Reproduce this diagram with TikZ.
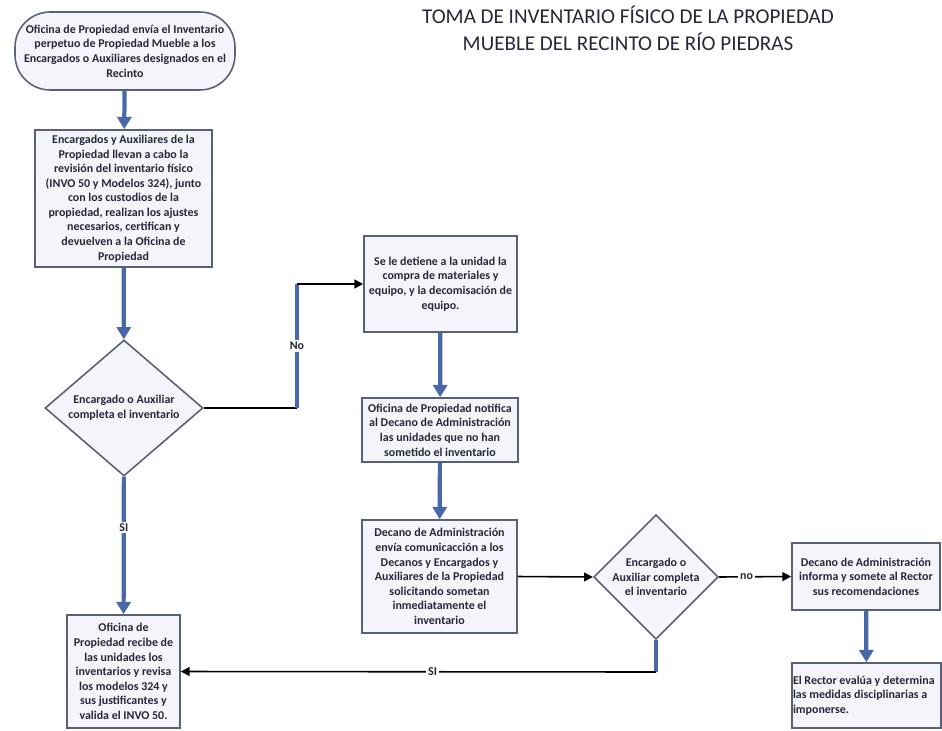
\documentclass[tikz,border=0pt]{standalone}
\usepackage{fontspec}
\setmainfont{Carlito}
\usetikzlibrary{arrows.meta,shapes.geometric,positioning}

\definecolor{flowblue}{RGB}{72,104,170}
\definecolor{boxline}{RGB}{90,96,118}
\definecolor{boxfill}{RGB}{244,245,250}
\definecolor{ink}{RGB}{38,40,58}

\begin{document}
\begin{tikzpicture}[x=0.02cm, y=-0.02cm,
    box/.style={draw=boxline, line width=0.9pt, fill=boxfill, align=center, inner sep=1pt, text=ink, font=\fontsize{6.8}{8.3}\selectfont\bfseries},
    dec/.style={box, diamond, inner sep=0pt},
    term/.style={box, rounded corners=20pt},
    flow/.style={-{Triangle[length=7pt,width=8pt]}, line width=2.4pt, draw=flowblue},
    link/.style={-{Triangle[length=5pt,width=5pt]}, line width=0.9pt, draw=black},
    lbl/.style={font=\fontsize{6.8}{8}\selectfont\bfseries, text=ink, fill=white, inner sep=1pt}
]
\useasboundingbox (0,0) rectangle (942,730);

\node[font=\fontsize{12}{15.3}\selectfont, text=ink, align=center] (title) at (628,28.5)
    {TOMA DE INVENTARIO FÍSICO DE LA PROPIEDAD\\MUEBLE DEL RECINTO DE RÍO PIEDRAS};

\node[term, minimum width=4.4cm, minimum height=1.56cm] (envio) at (125,51)
    {Oficina de Propiedad envía el Inventario\\perpetuo de Propiedad Mueble a los\\Encargados o Auxiliares designados en el\\Recinto};
\node[box, minimum width=3.54cm, minimum height=2.74cm] (revision) at (123.5,198.5)
    {Encargados y Auxiliares de la\\Propiedad llevan a cabo la\\revisión del inventario físico\\(INVO 50 y Modelos 324), junto\\con los custodios de la\\propiedad, realizan los ajustes\\necesarios, certifican y\\devuelven a la Oficina de\\Propiedad};
\node[dec, minimum width=3.16cm, minimum height=2.14cm] (completa) at (124,408)
    {Encargado o Auxiliar\\completa el inventario};
\node[box, minimum width=2.26cm, minimum height=2.26cm] (recibe) at (123.5,671.5)
    {Oficina de\\Propiedad recibe de\\las unidades los\\inventarios y revisa\\los modelos 324 y\\sus justificantes y\\valida el INVO 50.};

\node[box, minimum width=3.06cm, minimum height=1.92cm] (detiene) at (440.5,284)
    {Se le detiene a la unidad la\\compra de materiales y\\equipo, y la decomisación de\\equipo.};
\node[box, minimum width=3.12cm, minimum height=1.28cm] (notifica) at (440,430)
    {Oficina de Propiedad notifica\\al Decano de Administración\\las unidades que no han\\sometido el inventario};
\node[box, minimum width=3.10cm, minimum height=2.26cm] (decano) at (439.5,576.5)
    {Decano de Administración\\envía comunicacción a los\\Decanos y Encargados y\\Auxiliares de la Propiedad\\solicitando sometan\\inmediatamente el\\inventario};
\node[dec, minimum width=2.36cm, minimum height=2.34cm] (completa2) at (656,577)
    {Encargado o\\Auxiliar completa\\el inventario};
\node[box, minimum width=2.96cm, minimum height=1.34cm] (informa) at (866,576.5)
    {Decano de Administración\\informa y somete al Rector\\sus recomendaciones};
\node[box, align=flush left, text width=2.94cm, inner xsep=0.5pt, minimum height=1.30cm] (rector) at (866.5,695.5)
    {El Rector evalúa y determina\\las medidas disciplinarias a\\imponerse.};

\coordinate (nobaja) at (297,408);
\coordinate (nosube) at (297,284);
\coordinate (sibaja) at (656,672);

\draw[flow] (envio) -- (revision);
\draw[flow] (revision) -- (completa);
\draw[flow] (completa) -- node[lbl, pos=0.37] {SI} (recibe);
\draw[line width=0.9pt] (completa.east) -- (nobaja);
\draw[line width=2.4pt, draw=flowblue] (nobaja) -- node[lbl] {No} (nosube);
\draw[link] (nosube) -- (detiene.west);
\draw[flow] (detiene) -- (notifica);
\draw[flow] (notifica) -- (decano);
\draw[link] (decano.east) -- (completa2.west);
\draw[link] (completa2.east) -- node[lbl, pos=0.38] {no} (informa.west);
\draw[flow] (informa) -- (rector);
\draw[line width=2.4pt, draw=flowblue] (completa2.south) -- (sibaja);
\draw[link] (sibaja) -- node[lbl, pos=0.47] {SI} (recibe.east);
\end{tikzpicture}
\end{document}
